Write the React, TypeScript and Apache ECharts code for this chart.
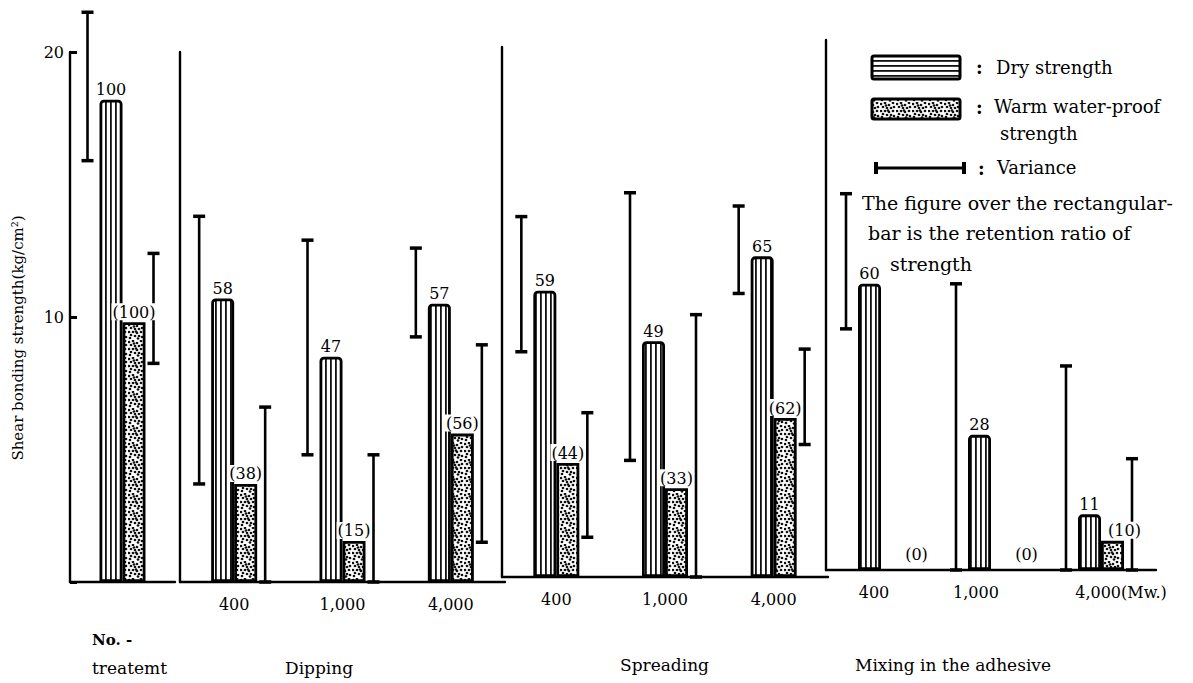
import React, { useEffect, useRef } from "react";
import * as echarts from "echarts";

// ---------- data ----------
const cats1 = [""];
const cats2 = ["400", "1,000", "4,000"];
const cats3 = ["400", "1,000", "4,000"];
const cats4 = ["400", "1,000", "4,000(Mw.)"];

const dry1 = [18.2];
const warm1 = [9.8];
const dry2 = [10.7, 8.5, 10.5];
const warm2 = [3.7, 1.55, 5.6];
const dry3 = [10.8, 8.9, 12.1];
const warm3 = [4.3, 3.35, 6.0];
const dry4 = [10.8, 5.1, 2.1];
const warm4 = [0, 0, 1.1];

const dryLbl1 = ["100"];
const warmLbl1 = ["(100)"];
const dryLbl2 = ["58", "47", "57"];
const warmLbl2 = ["(38)", "(15)", "(56)"];
const dryLbl3 = ["59", "49", "65"];
const warmLbl3 = ["(44)", "(33)", "(62)"];
const dryLbl4 = ["60", "28", "11"];
const warmLbl4 = ["(0)", "(0)", "(10)"];

// variance ranges [low, high]
const dryErr1 = [[15.9, 21.5]];
const warmErr1 = [[8.25, 12.4]];
const dryErr2 = [[3.7, 13.8], [4.8, 12.9], [9.25, 12.6]];
const warmErr2 = [[0, 6.6], [0, 4.8], [1.5, 8.95]];
const dryErr3 = [[8.5, 13.6], [4.4, 14.5], [10.7, 14.0]];
const warmErr3 = [[1.5, 6.2], [0, 9.9], [5.0, 8.6]];
const dryErr4 = [[9.1, 14.2], [0, 10.8], [0, 7.7]];
const warmErr4: (number[] | null)[] = [null, null, [0, 4.2]];

const yTicks = [10, 20];
const yName = "Shear bonding strength(kg/cm²)";

const SERIF = "'DejaVu Serif', 'Liberation Serif', serif";

function makeStripes(horizontal: boolean) {
  const c = document.createElement("canvas");
  c.width = horizontal ? 4 : 5;
  c.height = horizontal ? 5 : 4;
  const g = c.getContext("2d")!;
  g.fillStyle = "#fff";
  g.fillRect(0, 0, c.width, c.height);
  g.fillStyle = "#111";
  if (horizontal) g.fillRect(0, 0, 4, 1.8);
  else g.fillRect(0, 0, 1.8, 4);
  return c;
}

const DOTS = [
  [1, 2], [5, 1], [9, 3], [13, 1], [3, 5], [7, 6], [11, 6], [14, 5],
  [1, 9], [5, 9], [9, 10], [13, 9], [3, 12], [7, 13], [11, 13], [14, 14],
  [6, 3.5], [2, 15], [10, 15.5], [8, 8.5],
];
function makeDots() {
  const c = document.createElement("canvas");
  c.width = 16;
  c.height = 17;
  const g = c.getContext("2d")!;
  g.fillStyle = "#fff";
  g.fillRect(0, 0, c.width, c.height);
  g.fillStyle = "#111";
  DOTS.forEach(([x, y]) => {
    g.beginPath();
    g.arc(x, y, 1.35, 0, Math.PI * 2);
    g.fill();
  });
  return c;
}

// small label nudges for the last panel's category labels (style only)
const cat4Pad = [
  [0, 14, 0, 0],
  [0, 30, 0, 0],
  [0, 0, 0, 40],
];

export default function App() {
  const ref = useRef<HTMLDivElement>(null);
  useEffect(() => {
    if (!ref.current) return;
    const chart = echarts.init(ref.current, null, { renderer: "svg" });
    const vStripe = { image: makeStripes(false), repeat: "repeat" } as any;
    const hStripe = { image: makeStripes(true), repeat: "repeat" } as any;
    const dots = { image: makeDots(), repeat: "repeat" } as any;

    const panels = [
      { cats: cats1 as any[], dry: dry1, warm: warm1, dl: dryLbl1, wl: warmLbl1, de: dryErr1, we: warmErr1 as (number[] | null)[], left: 70, width: 105, top: 52 },
      { cats: cats2 as any[], dry: dry2, warm: warm2, dl: dryLbl2, wl: warmLbl2, de: dryErr2, we: warmErr2 as (number[] | null)[], left: 180, width: 325, top: 52 },
      { cats: cats3 as any[], dry: dry3, warm: warm3, dl: dryLbl3, wl: warmLbl3, de: dryErr3, we: warmErr3 as (number[] | null)[], left: 502, width: 326, top: 47 },
      {
        cats: cats4.map((c, k) => ({ value: c, textStyle: { padding: cat4Pad[k] } })) as any[],
        dry: dry4, warm: warm4, dl: dryLbl4, wl: warmLbl4, de: dryErr4, we: warmErr4, left: 826, width: 330, top: 40,
      },
    ];
    const H = 530;

    const labelBase = {
      show: true,
      position: "top",
      distance: 2,
      fontFamily: SERIF,
      fontSize: 16,
      color: "#000",
      backgroundColor: "#fff",
      padding: [1, 1, 0, 1],
    };

    const grid: any[] = [];
    const xAxis: any[] = [];
    const yAxis: any[] = [];
    const series: any[] = [];

    panels.forEach((p, i) => {
      grid.push({ left: p.left, width: p.width, top: p.top, height: H });
      xAxis.push({
        type: "category",
        gridIndex: i,
        data: p.cats,
        axisLine: { show: true, lineStyle: { color: "#000", width: 2.4 } },
        axisTick: { show: false },
        axisLabel: { show: true, interval: 0, color: "#000", fontFamily: SERIF, fontSize: 16, margin: 14 },
        splitLine: { show: false },
      });
      yAxis.push({
        type: "value",
        gridIndex: i,
        min: 0,
        max: 20,
        interval: 10,
        splitLine: { show: false },
        axisLine: { show: true, lineStyle: { color: "#000", width: 2.4 } },
        axisTick: i === 0 ? { show: true, inside: true, length: 7, lineStyle: { color: "#000", width: 3 } } : { show: false },
        axisLabel:
          i === 0
            ? {
                show: true,
                color: "#000",
                fontFamily: SERIF,
                fontSize: 16,
                margin: 6,
                formatter: (v: number) => (yTicks.includes(v) ? String(v) : ""),
              }
            : { show: false },
      });

      const errData: any[] = [];
      p.de.forEach((r, k) => {
        if (r) errData.push([k, r[0], r[1], 0]);
      });
      p.we.forEach((r, k) => {
        if (r) errData.push([k, r[0], r[1], 1]);
      });

      series.push({
        type: "custom",
        xAxisIndex: i,
        yAxisIndex: i,
        z: 1,
        clip: false,
        data: errData,
        encode: { x: 0, y: [1, 2] },
        renderItem: (params: any, api: any) => {
          const idx = api.value(0);
          const lo = api.value(1);
          const hi = api.value(2);
          const kind = api.value(3);
          const c = api.coord([idx, 0]);
          const x = c[0] + (kind === 0 ? -35 : 31);
          const y1 = api.coord([idx, lo])[1];
          const y2 = api.coord([idx, hi])[1];
          const capStyle = { stroke: "#000", lineWidth: 3.5 };
          return {
            type: "group",
            children: [
              { type: "line", shape: { x1: x, y1: y1, x2: x, y2: y2 }, style: { stroke: "#000", lineWidth: 2.6 } },
              { type: "line", shape: { x1: x - 6, y1: y2, x2: x + 6, y2: y2 }, style: capStyle },
              { type: "line", shape: { x1: x - 6, y1: y1, x2: x + 6, y2: y1 }, style: capStyle },
            ],
          };
        },
      });

      series.push({
        type: "bar",
        name: "Dry strength",
        xAxisIndex: i,
        yAxisIndex: i,
        z: 3,
        barWidth: 23,
        barGap: "0%",
        data: p.dry,
        itemStyle: { color: vStripe, borderColor: "#000", borderWidth: 2.8, borderRadius: [3, 3, 0, 0] },
        label: { ...labelBase, formatter: (q: any) => p.dl[q.dataIndex] },
      });
      series.push({
        type: "bar",
        name: "Warm water-proof strength",
        xAxisIndex: i,
        yAxisIndex: i,
        z: 3,
        barWidth: 23,
        barGap: "0%",
        data: p.warm.map((v, k) =>
          v === 0
            ? { value: v, itemStyle: { borderWidth: 0 }, label: { offset: [24, -6] } }
            : i === 3 && k === 2
            ? { value: v, label: { offset: [12, 0] } }
            : v
        ),
        itemStyle: { color: dots, borderColor: "#000", borderWidth: 2.8 },
        label: { ...labelBase, formatter: (q: any) => p.wl[q.dataIndex] },
      });
    });

    const txt = (x: number, y: number, text: string, extra: any = {}) => ({
      type: "text",
      x,
      y,
      style: {
        text,
        fill: "#000",
        font: `18px ${SERIF}`,
        textVerticalAlign: "middle",
        ...extra,
      },
    });

    const graphic: any[] = [
      // y axis name
      {
        type: "text",
        x: 18,
        y: 338,
        rotation: Math.PI / 2,
        style: { text: yName, fill: "#000", font: `15px ${SERIF}`, textAlign: "center", textVerticalAlign: "middle" },
      },
      // legend
      { type: "rect", shape: { x: 872, y: 56, width: 88, height: 23, r: 2 }, style: { fill: hStripe, stroke: "#000", lineWidth: 3 } },
      txt(976, 67, ":", { font: `bold 18px ${SERIF}` }),
      txt(996, 67, "Dry strength"),
      { type: "rect", shape: { x: 872, y: 99, width: 88, height: 20, r: 2 }, style: { fill: dots, stroke: "#000", lineWidth: 3 } },
      txt(976, 107, ":", { font: `bold 18px ${SERIF}` }),
      txt(994, 106, "Warm water-proof"),
      txt(1000, 133, "strength"),
      { type: "line", shape: { x1: 875, y1: 168, x2: 965, y2: 168 }, style: { stroke: "#000", lineWidth: 3 } },
      { type: "line", shape: { x1: 876, y1: 162, x2: 876, y2: 174 }, style: { stroke: "#000", lineWidth: 4 } },
      { type: "line", shape: { x1: 964, y1: 162, x2: 964, y2: 174 }, style: { stroke: "#000", lineWidth: 4 } },
      txt(978, 168, ":", { font: `bold 18px ${SERIF}` }),
      txt(997, 167, "Variance"),
      txt(862, 203, "The figure over the rectangular-", { font: `19px ${SERIF}` }),
      txt(868, 233, "bar is the retention ratio of", { font: `19px ${SERIF}` }),
      txt(890, 264, "strength", { font: `19px ${SERIF}` }),
      // bottom group labels
      txt(92, 640, "No. -", { font: `bold 15px ${SERIF}` }),
      txt(92, 668, "treatemt", { font: `17px ${SERIF}` }),
      txt(285, 668, "Dipping", { font: `17px ${SERIF}` }),
      txt(620, 665, "Spreading", { font: `17px ${SERIF}` }),
      txt(855, 665, "Mixing in the adhesive", { font: `17px ${SERIF}` }),
    ];

    chart.setOption({
      animation: false,
      backgroundColor: "#fff",
      grid,
      xAxis,
      yAxis,
      series,
      graphic,
    });
    return () => chart.dispose();
  }, []);
  return (
    <div
      ref={ref}
      style={{ position: "fixed", left: 0, top: 0, width: 1193, height: 683, background: "#fff" }}
    />
  );
}
